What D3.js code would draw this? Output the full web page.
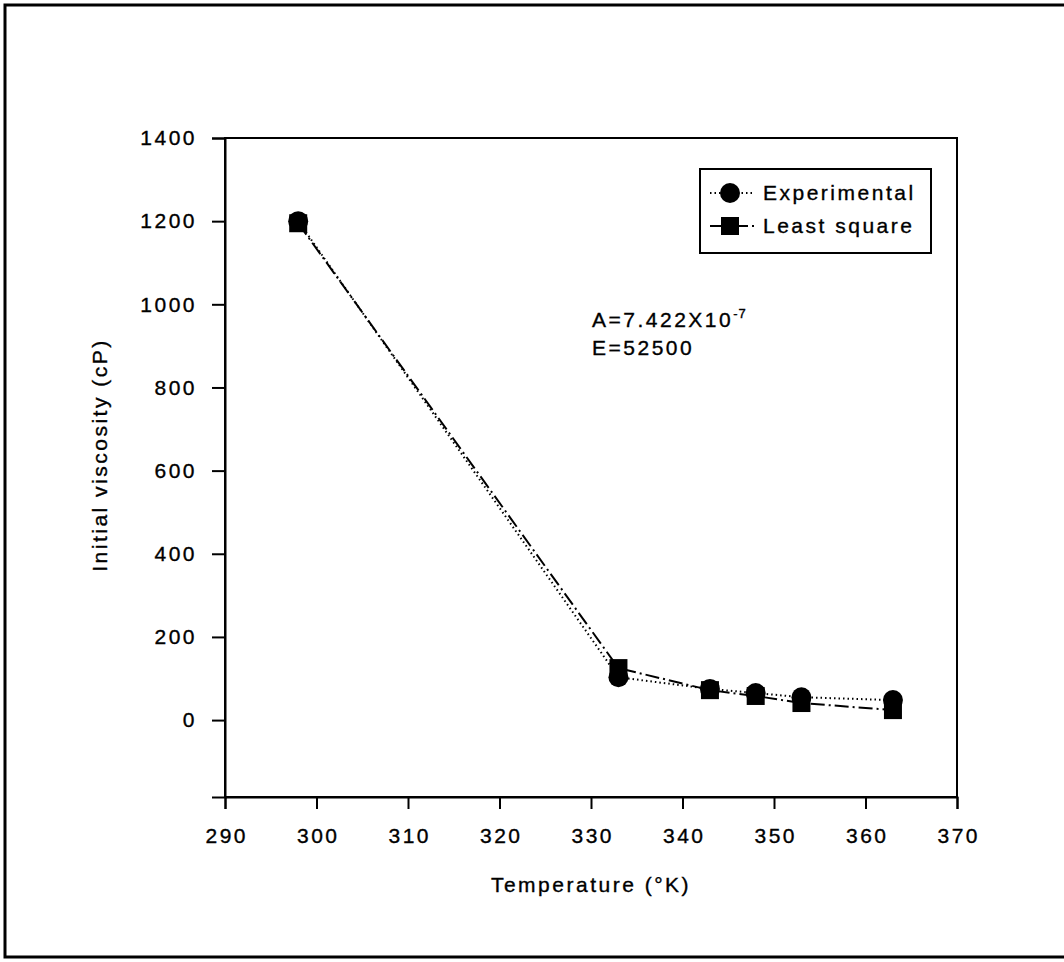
<!DOCTYPE html>
<html><head><meta charset="utf-8">
<script src="https://cdn.jsdelivr.net/npm/d3@7"></script>
<style>body{margin:0;background:#fff}svg{display:block}text{font-family:"Liberation Sans",Arial,sans-serif;fill:#000;stroke:#000;stroke-width:0.35px;letter-spacing:2.5px}</style>
</head><body>
<script>
const temps = [298, 333, 343, 348, 353, 363];
const experimental = [1200, 103, 75, 65, 55, 48];
const leastSquare = [1195, 125, 72, 58, 41, 24];
const xTicks = [290, 300, 310, 320, 330, 340, 350, 360, 370];
const yTicks = [0, 200, 400, 600, 800, 1000, 1200, 1400];

const W = 1064, H = 962;
const FS = "21px";
const svg = d3.select("body").append("svg").attr("width", W).attr("height", H);
svg.append("path").attr("d", "M1064,5H5V957H1064")
  .attr("fill", "none").attr("stroke", "#000").attr("stroke-width", 3);

const L = 225, R = 957, T = 138, B = 797;
const x = d3.scaleLinear().domain([290, 370]).range([L, R]);
const y = d3.scaleLinear().domain([-185, 1400]).range([B, T]);

svg.append("rect").attr("x", L).attr("y", T).attr("width", R - L).attr("height", B - T)
  .attr("fill", "none").attr("stroke", "#000").attr("stroke-width", 2);

const xa = svg.append("g").attr("transform", `translate(0,${B})`)
  .call(d3.axisBottom(x).tickValues(xTicks).tickSize(12).tickPadding(19).tickFormat(d3.format("d")));
const ya = svg.append("g").attr("transform", `translate(${L},0)`)
  .call(d3.axisLeft(y).tickValues(yTicks).tickSize(13).tickPadding(15).tickFormat(d3.format("d")));
[xa, ya].forEach(a => {
  a.select(".domain").attr("stroke-width", 2);
  a.selectAll(".tick line").attr("stroke-width", 2);
  a.selectAll("text").style("font-size", FS).style("font-family", '"Liberation Sans",Arial,sans-serif');
});
xa.selectAll("text").attr("dx", "1.25px");

const expPts = temps.map((t, i) => [t, experimental[i]]);
const lsPts = temps.map((t, i) => [t, leastSquare[i]]);
const line = d3.line().x(d => x(d[0])).y(d => y(d[1]));

svg.append("path").attr("d", line(expPts)).attr("fill", "none").attr("stroke", "#000")
  .attr("stroke-width", 2).attr("stroke-dasharray", "1.5,3");
svg.append("path").attr("d", line(lsPts)).attr("fill", "none").attr("stroke", "#000")
  .attr("stroke-width", 2).attr("stroke-dasharray", "14,4,2,4");

svg.selectAll(".sq").data(lsPts).enter().append("rect")
  .attr("x", d => x(d[0]) - 9).attr("y", d => y(d[1]) - 9).attr("width", 18).attr("height", 18).attr("fill", "#000");
svg.selectAll(".ci").data(expPts).enter().append("circle")
  .attr("cx", d => x(d[0])).attr("cy", d => y(d[1])).attr("r", 10).attr("fill", "#000");

// legend
const lg = svg.append("g");
lg.append("rect").attr("x", 700).attr("y", 169).attr("width", 231).attr("height", 84)
  .attr("fill", "#fff").attr("stroke", "#000").attr("stroke-width", 2);
lg.append("line").attr("x1", 710).attr("x2", 754).attr("y1", 193).attr("y2", 193)
  .attr("stroke", "#000").attr("stroke-width", 2).attr("stroke-dasharray", "1.5,3");
lg.append("circle").attr("cx", 730).attr("cy", 193).attr("r", 10).attr("fill", "#000");
lg.append("text").attr("x", 763).attr("y", 200).style("font-size", FS).text("Experimental");
lg.append("line").attr("x1", 710).attr("x2", 754).attr("y1", 226).attr("y2", 226)
  .attr("stroke", "#000").attr("stroke-width", 2).attr("stroke-dasharray", "14,4,2,4");
lg.append("rect").attr("x", 721).attr("y", 217).attr("width", 18).attr("height", 18).attr("fill", "#000");
lg.append("text").attr("x", 763).attr("y", 233).style("font-size", FS).text("Least square");

// annotation
const an = svg.append("text").attr("x", 592).attr("y", 327).style("font-size", FS);
an.append("tspan").text("A=7.422X10");
an.append("tspan").attr("dy", -9).style("font-size", "13px").style("letter-spacing", "1px").text("-7");
svg.append("text").attr("x", 592).attr("y", 355).style("font-size", FS).text("E=52500");

// axis titles
svg.append("text").attr("x", (L + R) / 2).attr("y", 892).attr("text-anchor", "middle")
  .style("font-size", FS).text("Temperature (°K)");
svg.append("text").attr("transform", `translate(107,455) rotate(-90)`)
  .attr("text-anchor", "middle").style("font-size", FS).text("Initial viscosity (cP)");
</script>
</body></html>
